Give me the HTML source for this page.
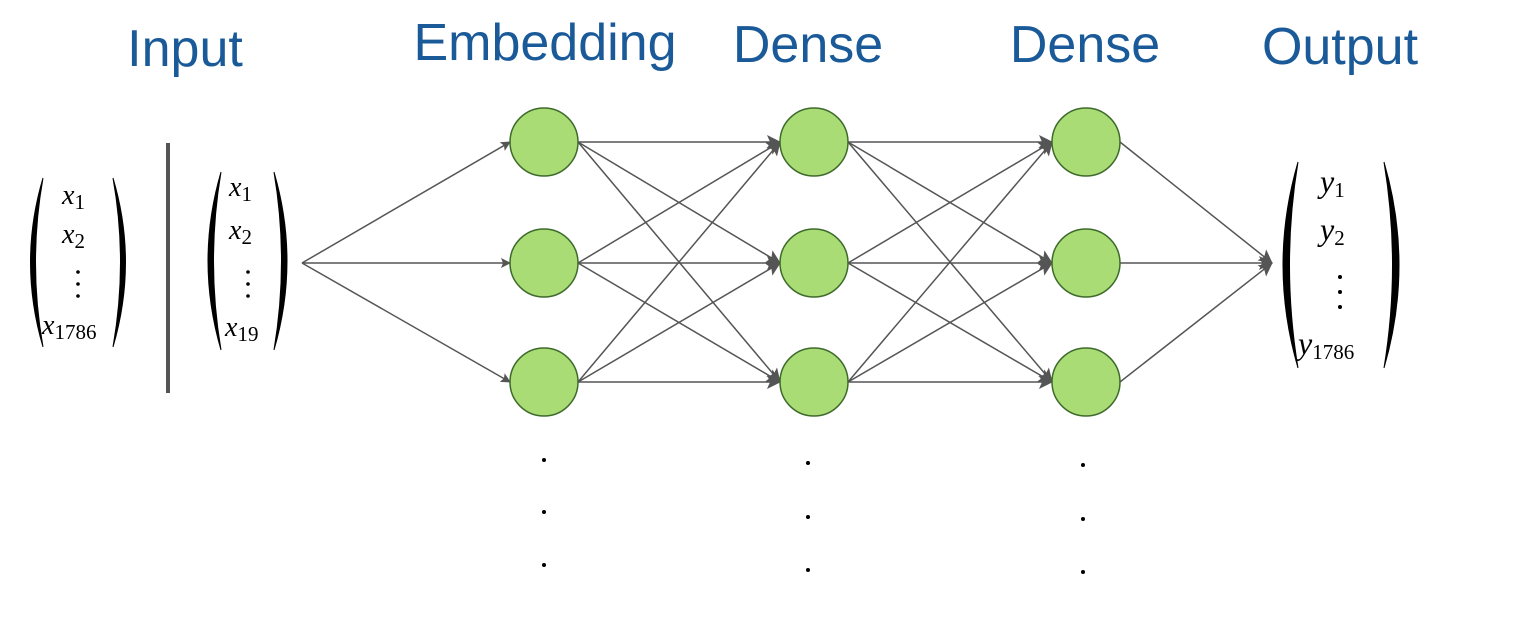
<!DOCTYPE html>
<html><head><meta charset="utf-8"><style>
html,body{margin:0;padding:0;background:#fff;width:1532px;height:630px;overflow:hidden}
svg{display:block}
.t{font-family:"Liberation Sans",sans-serif;font-size:52px;fill:#1a5a98}
.m{font-family:"Liberation Serif",serif;font-style:italic;fill:#000}
.s{font-style:normal;font-size:21px}
</style></head><body>
<svg width="1532" height="630" viewBox="0 0 1532 630">
<defs>
<marker id="a" markerWidth="10" markerHeight="10" refX="9" refY="5" orient="auto" markerUnits="userSpaceOnUse"><path d="M0,0 L10,5 L0,10 L2,5Z" fill="#555"/></marker>
<marker id="b" markerWidth="14" markerHeight="14" refX="13" refY="7" orient="auto" markerUnits="userSpaceOnUse"><path d="M0,0 L14,7 L0,14 L3,7Z" fill="#555"/></marker></defs>
<text class="t" x="185" y="66" text-anchor="middle">Input</text>
<text class="t" x="545" y="60" text-anchor="middle">Embedding</text>
<text class="t" x="808" y="62" text-anchor="middle">Dense</text>
<text class="t" x="1085" y="62" text-anchor="middle">Dense</text>
<text class="t" x="1340" y="64" text-anchor="middle">Output</text>
<rect x="166" y="143" width="4" height="250" fill="#555"/>
<g fill="#000">
<path d="M43,178 Q18,262 43,347 Q28,262 43,178Z" stroke="#000" stroke-width="1"/>
<path d="M113,178 Q138,262 113,347 Q128,262 113,178Z" stroke="#000" stroke-width="1"/>
<path d="M221,172 Q195,261 221,350 Q206,261 221,172Z" stroke="#000" stroke-width="1"/>
<path d="M274,172 Q300,261 274,350 Q289,261 274,172Z" stroke="#000" stroke-width="1"/>
<path d="M1298,162 Q1268,265 1298,368 Q1281,265 1298,162Z" stroke="#000" stroke-width="1"/>
<path d="M1384,162 Q1414,265 1384,368 Q1401,265 1384,162Z" stroke="#000" stroke-width="1"/>
</g>
<g class="m" font-size="28">
<text x="62" y="204">x<tspan class="s" dy="5">1</tspan></text>
<text x="62" y="243">x<tspan class="s" dy="5">2</tspan></text>
<text x="42" y="334">x<tspan class="s" dy="5">1786</tspan></text>
<text x="229" y="196">x<tspan class="s" dy="5">1</tspan></text>
<text x="229" y="239">x<tspan class="s" dy="5">2</tspan></text>
<text x="225" y="336">x<tspan class="s" dy="5">19</tspan></text>
</g>
<g class="m" font-size="32">
<text x="1320" y="192">y<tspan class="s" font-size="25" dy="5">1</tspan></text>
<text x="1320" y="240">y<tspan class="s" font-size="25" dy="5">2</tspan></text>
<text x="1298" y="354">y<tspan class="s" font-size="25" dy="5">1786</tspan></text>
</g>
<g fill="#000">
<circle cx="78" cy="272" r="1.8"/><circle cx="78" cy="284" r="1.8"/><circle cx="78" cy="296" r="1.8"/>
<circle cx="248" cy="272" r="1.8"/><circle cx="248" cy="284" r="1.8"/><circle cx="248" cy="296" r="1.8"/>
<circle cx="1340" cy="277" r="2"/><circle cx="1340" cy="292" r="2"/><circle cx="1340" cy="307" r="2"/>
<circle cx="544" cy="460" r="2"/><circle cx="544" cy="512" r="2"/><circle cx="544" cy="565" r="2"/>
<circle cx="808" cy="463" r="2"/><circle cx="808" cy="517" r="2"/><circle cx="808" cy="570" r="2"/>
<circle cx="1083" cy="465" r="2"/><circle cx="1083" cy="519" r="2"/><circle cx="1083" cy="572" r="2"/>
</g>
<g stroke="#555" stroke-width="1.5" fill="none">
<line x1="302" y1="263" x2="510" y2="142" marker-end="url(#a)"/>
<line x1="302" y1="263" x2="510" y2="263" marker-end="url(#a)"/>
<line x1="302" y1="263" x2="510" y2="382" marker-end="url(#a)"/>
<line x1="578" y1="142" x2="780" y2="142" marker-end="url(#b)"/>
<line x1="578" y1="142" x2="780" y2="263" marker-end="url(#b)"/>
<line x1="578" y1="142" x2="780" y2="382" marker-end="url(#b)"/>
<line x1="578" y1="263" x2="780" y2="142" marker-end="url(#b)"/>
<line x1="578" y1="263" x2="780" y2="263" marker-end="url(#b)"/>
<line x1="578" y1="263" x2="780" y2="382" marker-end="url(#b)"/>
<line x1="578" y1="382" x2="780" y2="142" marker-end="url(#b)"/>
<line x1="578" y1="382" x2="780" y2="263" marker-end="url(#b)"/>
<line x1="578" y1="382" x2="780" y2="382" marker-end="url(#b)"/>
<line x1="848" y1="142" x2="1052" y2="142" marker-end="url(#b)"/>
<line x1="848" y1="142" x2="1052" y2="263" marker-end="url(#b)"/>
<line x1="848" y1="142" x2="1052" y2="382" marker-end="url(#b)"/>
<line x1="848" y1="263" x2="1052" y2="142" marker-end="url(#b)"/>
<line x1="848" y1="263" x2="1052" y2="263" marker-end="url(#b)"/>
<line x1="848" y1="263" x2="1052" y2="382" marker-end="url(#b)"/>
<line x1="848" y1="382" x2="1052" y2="142" marker-end="url(#b)"/>
<line x1="848" y1="382" x2="1052" y2="263" marker-end="url(#b)"/>
<line x1="848" y1="382" x2="1052" y2="382" marker-end="url(#b)"/>
<line x1="1120" y1="142" x2="1272" y2="263" marker-end="url(#b)"/>
<line x1="1120" y1="263" x2="1272" y2="263" marker-end="url(#b)"/>
<line x1="1120" y1="382" x2="1272" y2="263" marker-end="url(#b)"/>
</g>
<g fill="#a9dc74" stroke="#3e6a2c" stroke-width="1.5">
<circle cx="544" cy="142" r="34"/><circle cx="544" cy="263" r="34"/><circle cx="544" cy="382" r="34"/>
<circle cx="814" cy="142" r="34"/><circle cx="814" cy="263" r="34"/><circle cx="814" cy="382" r="34"/>
<circle cx="1086" cy="142" r="34"/><circle cx="1086" cy="263" r="34"/><circle cx="1086" cy="382" r="34"/>
</g>
</svg>
</body></html>
